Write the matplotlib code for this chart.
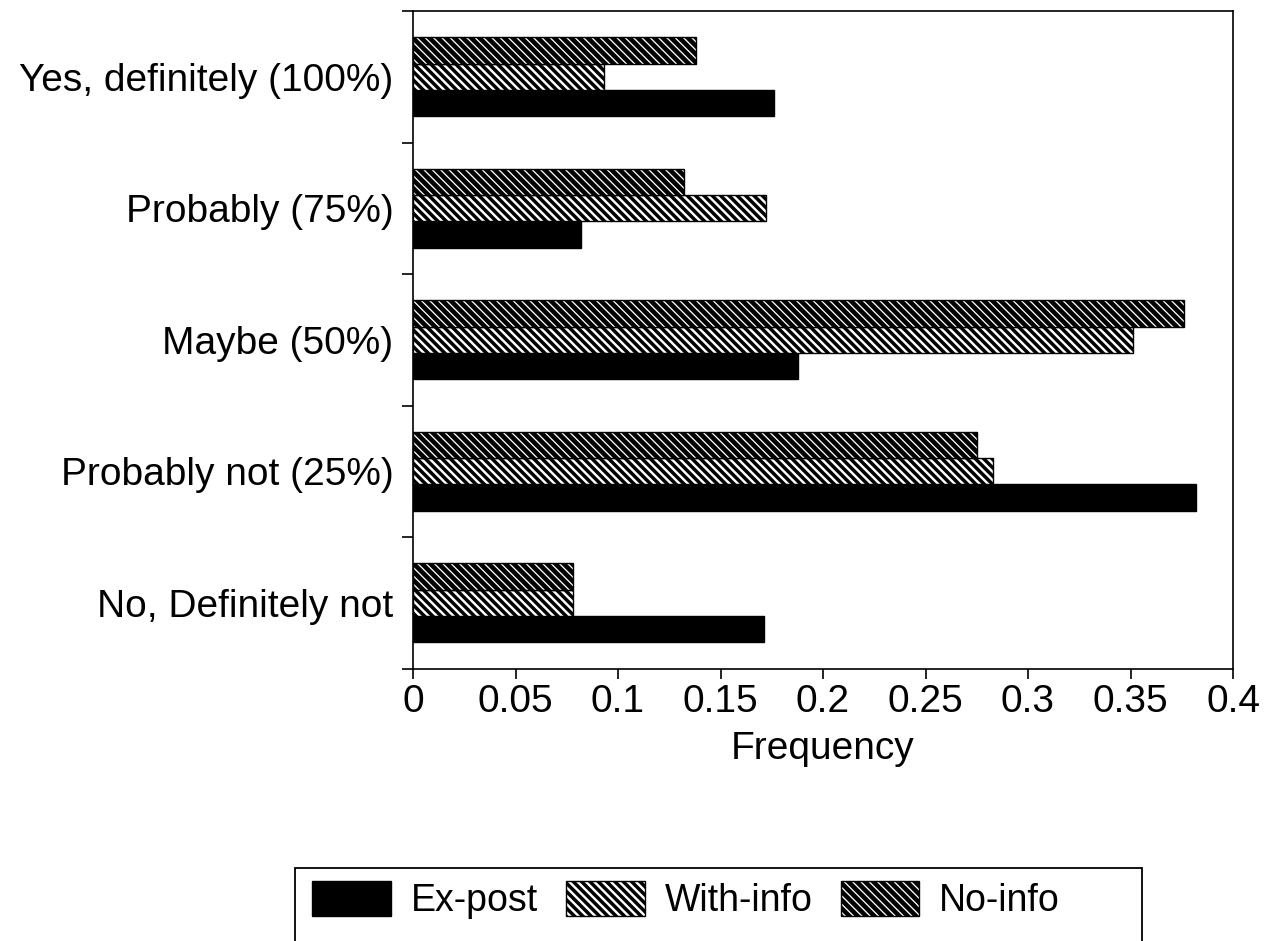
import matplotlib
matplotlib.use("Agg")
import matplotlib.pyplot as plt
from matplotlib.patches import Rectangle
import numpy as np

plt.rcParams['font.family'] = ['Liberation Sans', 'DejaVu Sans']

# ---- data (bottom -> top) ----
categories = ["No, Definitely not", "Probably not (25%)", "Maybe (50%)",
              "Probably (75%)", "Yes, definitely (100%)"]
ex_post = [0.171, 0.382, 0.188, 0.082, 0.176]
with_info = [0.078, 0.283, 0.351, 0.172, 0.093]
no_info = [0.078, 0.275, 0.376, 0.132, 0.138]
series_names = ["Ex-post", "With-info", "No-info"]
x_ticks = [0, 0.05, 0.1, 0.15, 0.2, 0.25, 0.3, 0.35, 0.4]
x_tick_labels = ["0", "0.05", "0.1", "0.15", "0.2", "0.25", "0.3", "0.35", "0.4"]

W, H = 1268, 941
fig = plt.figure(figsize=(W / 100, H / 100), dpi=100)
ax = fig.add_axes([413 / W, 1 - 668.5 / H, 820 / W, 657.5 / H])

y = np.arange(len(categories))
bh = 0.2
HATCH = "\\" * 4
LW_WITH = 2.5
LW_NO = 3.3


def set_hlw(container, lw):
    for p in container:
        if hasattr(p, "set_hatch_linewidth"):
            p.set_hatch_linewidth(lw)


b1 = ax.barh(y - bh, ex_post, height=bh, color="black", edgecolor="black",
             linewidth=1.0, label=series_names[0])
plt.rcParams['hatch.linewidth'] = LW_WITH
b2 = ax.barh(y, with_info, height=bh, color="white", edgecolor="black",
             hatch=HATCH, linewidth=1.0, label=series_names[1])
set_hlw(b2, LW_WITH)
plt.rcParams['hatch.linewidth'] = LW_NO
b3 = ax.barh(y + bh, no_info, height=bh, color="white", edgecolor="black",
             hatch=HATCH, linewidth=1.0, label=series_names[2])
set_hlw(b3, LW_NO)

ax.set_xlim(0, 0.4)
ax.set_ylim(-0.5, len(categories) - 0.5)

ax.set_xticks(x_ticks)
ax.set_xticklabels(x_tick_labels)
ax.set_yticks(y)
ax.set_yticklabels(categories)
ax.set_yticks(np.arange(len(categories) + 1) - 0.5, minor=True)

ax.tick_params(axis="y", which="major", length=0, pad=14, labelsize=28)
ax.tick_params(axis="y", which="minor", length=8, width=1.2, direction="out")
ax.tick_params(axis="x", which="major", length=7, width=1.2, direction="out",
               pad=4, labelsize=28)
for s in ax.spines.values():
    s.set_linewidth(1.2)
    s.set_color("black")

ax.set_xlabel("Frequency", fontsize=28, labelpad=8)

leg = ax.legend(handles=[b1, b2, b3], labels=series_names, ncol=3,
                loc="center left", bbox_to_anchor=(312 / W, 1 - 900 / H),
                bbox_transform=fig.transFigure, frameon=False, borderpad=0,
                borderaxespad=0, handlelength=2.1, handleheight=1.07,
                handletextpad=0.53, columnspacing=0.75, fontsize=27)
for h, lw in zip(leg.legend_handles, [1.0, LW_WITH, LW_NO]):
    if hasattr(h, "set_hatch_linewidth"):
        h.set_hatch_linewidth(lw)

frame = Rectangle((295 / W, -0.02), (1142 - 295) / W, (1 - 868 / H) + 0.02,
                  transform=fig.transFigure, fill=False, edgecolor="black",
                  linewidth=1.3)
fig.patches.append(frame)

fig.savefig("out.png", dpi=100)
